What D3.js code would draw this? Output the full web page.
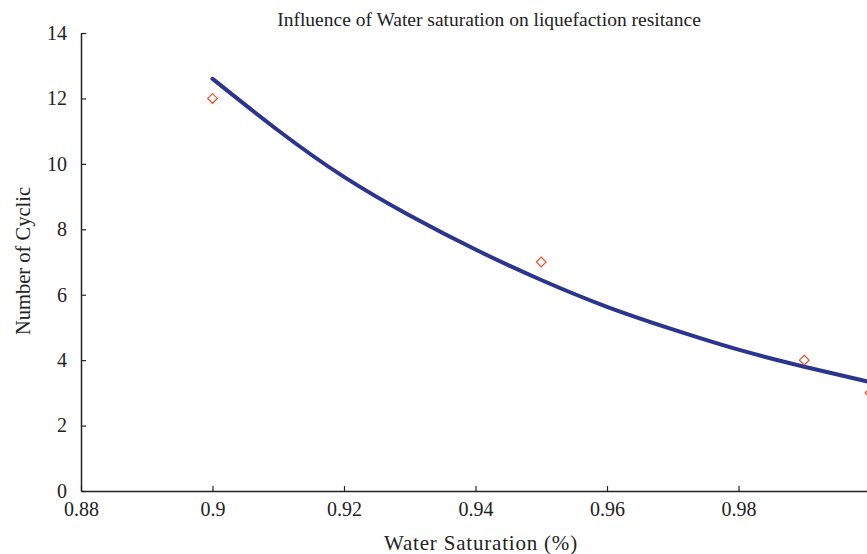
<!DOCTYPE html>
<html>
<head>
<meta charset="utf-8">
<script src="https://cdn.jsdelivr.net/npm/d3@7"></script>
<style>
  body { margin: 0; background: #fff; }
  svg { display: block; }
  svg text { font-family: "Liberation Serif", "Times New Roman", serif; fill: #222; }
</style>
</head>
<body>
<svg id="chart" width="867" height="554"></svg>
<script>
// //////// DATA

// measured points
const saturation = [0.9, 0.95, 0.99, 1.0];
const cycles = [12, 7, 4, 3];

// trend curve
const trendX = [0.9, 0.91, 0.92, 0.93, 0.94, 0.95, 0.96, 0.97, 0.98, 0.99, 1.0];
const trendY = [12.6, 11.02, 9.6, 8.42, 7.38, 6.45, 5.63, 4.94, 4.32, 3.8, 3.33];

const xTicks = [0.88, 0.9, 0.92, 0.94, 0.96, 0.98];
const yTicks = [0, 2, 4, 6, 8, 10, 12, 14];

// //////// CHART

const svg = d3.select("#chart");

const plotLeft = 81;
const plotRight = 870;
const plotTop = 33;
const plotBottom = 491;

const x = d3.scaleLinear().domain([0.88, 1.0]).range([plotLeft, plotRight]);
const y = d3.scaleLinear().domain([0, 14]).range([plotBottom, plotTop]);

// axes, ticks pointing inward
const xAxis = d3
  .axisBottom(x)
  .tickValues(xTicks)
  .tickSizeInner(-5)
  .tickSizeOuter(0)
  .tickPadding(13)
  .tickFormat((d) => String(+d.toFixed(2)));

const yAxis = d3
  .axisLeft(y)
  .tickValues(yTicks)
  .tickSizeInner(-5)
  .tickSizeOuter(0)
  .tickPadding(14);

const gx = svg.append("g").attr("transform", `translate(0,${plotBottom})`).call(xAxis);
const gy = svg.append("g").attr("transform", `translate(${plotLeft},0)`).call(yAxis);

[gx, gy].forEach((g) => {
  g.select(".domain").attr("stroke", "#222").attr("stroke-width", 1.5);
  g.selectAll(".tick line").attr("stroke", "#222").attr("stroke-width", 1.2);
  g.selectAll(".tick text").style("font-size", "20px");
});
gx.selectAll(".tick text").attr("dy", "0.62em");

// trend line
const line = d3
  .line()
  .x((d, i) => x(trendX[i]))
  .y((d) => y(d))
  .curve(d3.curveNatural);

svg
  .append("path")
  .datum(trendY)
  .attr("d", line)
  .attr("fill", "none")
  .attr("stroke", "#2b3590")
  .attr("stroke-width", 4)
  .attr("stroke-linecap", "round");

// data points as open diamonds
svg
  .append("g")
  .selectAll("path")
  .data(cycles)
  .join("path")
  .attr("d", d3.symbol(d3.symbolDiamond2, 60))
  .attr("transform", (d, i) => `translate(${x(saturation[i])},${y(d)})`)
  .attr("fill", "none")
  .attr("stroke", "#ee4b2b")
  .attr("stroke-width", 1.2);

// labels
svg
  .append("text")
  .attr("x", 489)
  .attr("y", 26)
  .attr("text-anchor", "middle")
  .style("font-size", "19.5px")
  .text("Influence of Water saturation on liquefaction resitance");

svg
  .append("text")
  .attr("x", 481)
  .attr("y", 550)
  .attr("text-anchor", "middle")
  .style("font-size", "21px")
  .style("letter-spacing", "0.8px")
  .text("Water Saturation (%)");

svg
  .append("text")
  .attr("transform", "translate(30,261) rotate(-90)")
  .attr("text-anchor", "middle")
  .style("font-size", "20.5px")
  .text("Number of Cyclic");
</script>
</body>
</html>
